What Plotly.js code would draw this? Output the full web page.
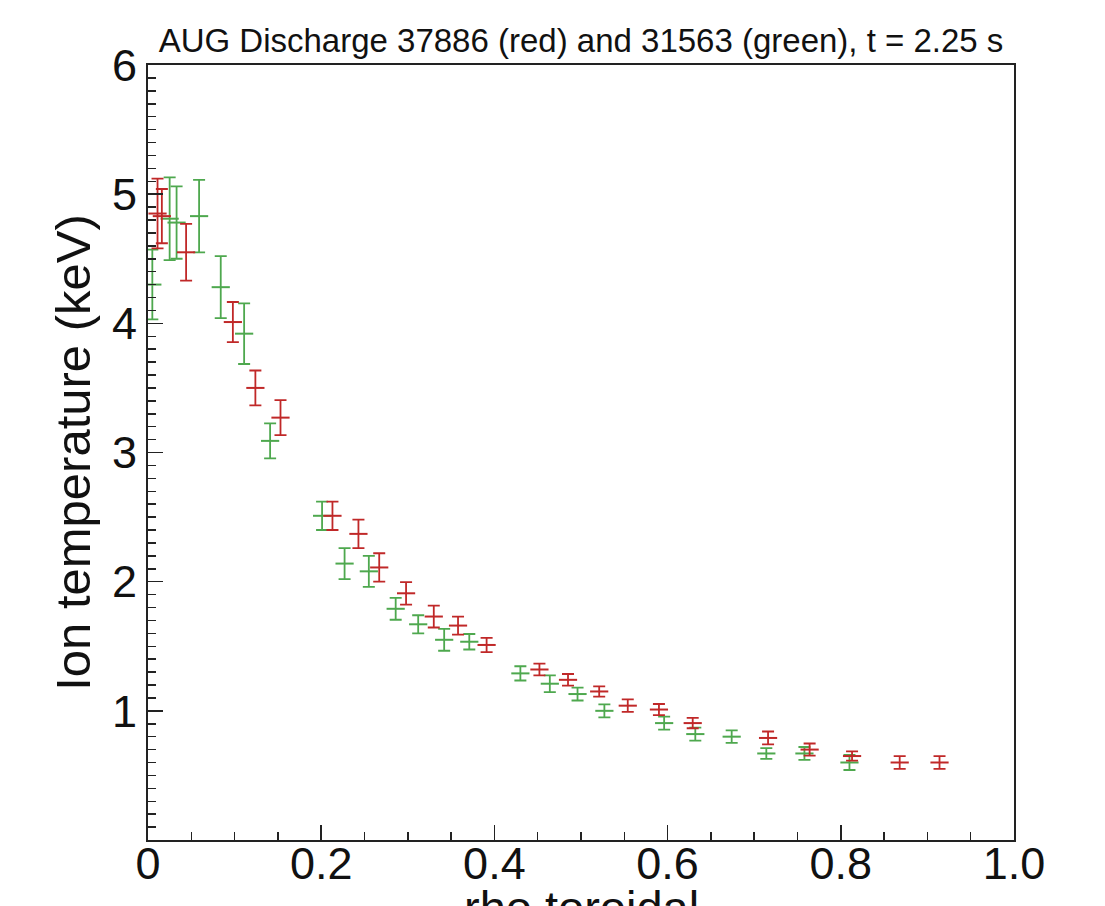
<!DOCTYPE html>
<html>
<head>
<meta charset="utf-8">
<script src="https://cdn.plot.ly/plotly-3.0.1.min.js"></script>
<style>html,body{margin:0;padding:0;background:#fff;}#chart{width:1105px;height:906px;}</style>
</head>
<body>
<div id="chart"></div>
<script>
// Discharge 31563 (green)
const greenX   = [0.005, 0.025, 0.033, 0.059, 0.084, 0.111, 0.141, 0.201, 0.227, 0.255, 0.286, 0.312, 0.342, 0.371, 0.430, 0.464, 0.496, 0.527, 0.596, 0.632, 0.674, 0.714, 0.758, 0.810];
const greenY   = [4.30, 4.81, 4.78, 4.83, 4.28, 3.92, 3.09, 2.51, 2.14, 2.08, 1.79, 1.67, 1.55, 1.535, 1.29, 1.21, 1.13, 1.00, 0.905, 0.82, 0.80, 0.67, 0.67, 0.60];
const greenErr = [0.27, 0.32, 0.28, 0.28, 0.24, 0.235, 0.135, 0.11, 0.12, 0.12, 0.085, 0.07, 0.085, 0.06, 0.055, 0.065, 0.05, 0.05, 0.05, 0.05, 0.048, 0.042, 0.05, 0.058];
// Discharge 37886 (red)
const redX   = [0.011, 0.016, 0.044, 0.098, 0.124, 0.153, 0.213, 0.243, 0.267, 0.298, 0.330, 0.358, 0.391, 0.452, 0.485, 0.521, 0.554, 0.590, 0.629, 0.716, 0.764, 0.813, 0.868, 0.914];
const redY   = [4.85, 4.83, 4.55, 4.01, 3.50, 3.27, 2.51, 2.37, 2.11, 1.91, 1.73, 1.66, 1.51, 1.32, 1.24, 1.15, 1.04, 1.01, 0.905, 0.79, 0.70, 0.65, 0.60, 0.60];
const redErr = [0.27, 0.21, 0.22, 0.155, 0.135, 0.135, 0.11, 0.11, 0.11, 0.087, 0.085, 0.07, 0.055, 0.045, 0.045, 0.04, 0.048, 0.043, 0.04, 0.05, 0.047, 0.036, 0.05, 0.05];

const xTickVals = [0, 0.2, 0.4, 0.6, 0.8, 1.0];
const xTickText = ['0', '0.2', '0.4', '0.6', '0.8', '1.0'];
const yTickVals = [1, 2, 3, 4, 5, 6];
const yTickText = ['1', '2', '3', '4', '5', '6'];

const titleText = 'AUG Discharge 37886 (red) and 31563 (green), t = 2.25 s';
const xTitle = 'rho toroidal';
const yTitle = 'Ion temperature (keV)';

const GREEN = '#4ea84e';
const RED = '#c02828';
const FONT = 'Liberation Sans, Arial, Helvetica, sans-serif';

function trace(x, y, e, color) {
  return {
    type: 'scatter', mode: 'markers', x: x, y: y,
    marker: {symbol: 'line-ew', size: 13, color: color, line: {color: color, width: 2}},
    error_y: {type: 'data', array: e, visible: true, color: color, thickness: 1.8, width: 6},
    hoverinfo: 'x+y', showlegend: false
  };
}

const data = [trace(greenX, greenY, greenErr, GREEN), trace(redX, redY, redErr, RED)];

const axisCommon = {
  showgrid: false, zeroline: false, showline: true, linecolor: '#222', linewidth: 2,
  mirror: true, ticks: 'inside', ticklen: 15, tickwidth: 1.5, tickcolor: '#222',
  tickfont: {family: FONT, size: 45, color: '#111'}
};

const layout = {
  width: 1105, height: 906,
  margin: {l: 148, r: 91, t: 65, b: 66, pad: 0},
  paper_bgcolor: '#fff', plot_bgcolor: '#fff',
  font: {family: FONT, color: '#111'},
  title: {text: titleText, font: {family: FONT, size: 33, color: '#111'}, x: 0.5, xref: 'paper', xanchor: 'center', y: 1 - 40/906, yref: 'container', yanchor: 'middle'},
  xaxis: Object.assign({}, axisCommon, {
    range: [0, 1], tickvals: xTickVals, ticktext: xTickText,
    minor: {dtick: 0.05, ticks: 'inside', ticklen: 8, tickwidth: 1.5, tickcolor: '#222'},
    ticklabelstandoff: -17
  }),
  yaxis: Object.assign({}, axisCommon, {
    range: [0, 6], tickvals: yTickVals, ticktext: yTickText,
    minor: {dtick: 0.1, ticks: 'inside', ticklen: 8, tickwidth: 1.5, tickcolor: '#222'},
    ticklabelstandoff: 0,
    title: {text: yTitle, font: {family: FONT, size: 49, color: '#111'}, standoff: 6}
  }),
  annotations: [{
    text: xTitle, xref: 'paper', yref: 'paper', x: 0.5, y: 0, xanchor: 'center', yanchor: 'top',
    yshift: -40, borderpad: 0, showarrow: false, font: {family: FONT, size: 47, color: '#111'}
  }]
};

Plotly.newPlot('chart', data, layout, {displayModeBar: false, staticPlot: true});
</script>
</body>
</html>
